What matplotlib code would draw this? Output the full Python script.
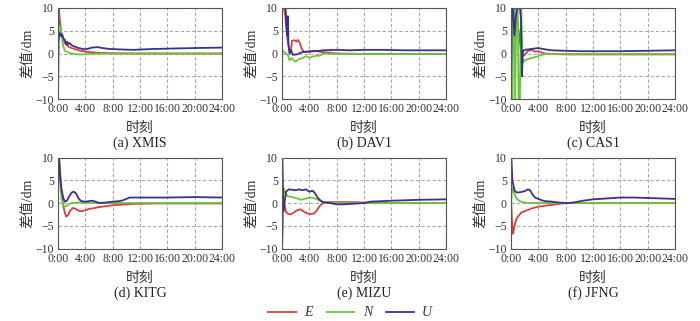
import matplotlib
matplotlib.use("Agg")
import matplotlib.pyplot as plt

plt.rcParams['font.family'] = ['Liberation Serif', 'Noto Sans CJK SC']
plt.rcParams['axes.unicode_minus'] = True

# ---------------- data (hours, dm) ----------------
titles = ["(a) XMIS", "(b) DAV1", "(c) CAS1", "(d) KITG", "(e) MIZU", "(f) JFNG"]
xtick_labels = ["0:00", "4:00", "8:00", "12:00", "16:00", "20:00", "24:00"]
ytick_vals = [-10, -5, 0, 5, 10]
legend_labels = ["E", "N", "U"]

# XMIS
a_E_t = [0, 0.05, 0.12, 0.4, 0.7, 1.0, 1.5, 2.0, 3.0, 4.0, 5.0, 6.0, 8.0, 12, 16, 20, 24]
a_E_v = [-10, 10.5, 10, 5, 3, 2.3, 1.5, 1.2, 0.7, 0.4, 0.25, 0.15, 0.05, 0, 0, 0, 0]
a_N_t = [0, 0.1, 0.25, 0.4, 0.7, 1.0, 1.5, 2.0, 3.0, 4.0, 5.0, 8.0, 12, 16, 20, 24]
a_N_v = [-10, 2, 5, 6, 2, 0.6, 0.2, 0, -0.2, -0.2, -0.05, 0, 0, 0, 0, 0]
a_U_t = [0, 0.05, 0.15, 0.3, 0.45, 0.6, 0.8, 1.0, 1.2, 1.35, 1.5, 1.7, 2.0, 2.5, 3.0, 4.0, 4.5, 5.0, 5.8, 6.5, 7.5, 9.0, 11, 14, 17, 20, 24]
a_U_v = [-10, 3, 3.8, 4.5, 3.8, 4.2, 3.3, 3.0, 2.0, 2.6, 2.0, 2.3, 1.8, 1.5, 1.2, 0.9, 1.1, 1.3, 1.4, 1.2, 1.0, 0.9, 0.8, 1.0, 1.1, 1.2, 1.3]

# DAV1
b_E_t = [0, 0.3, 0.5, 0.8, 1.1, 1.3, 1.45, 1.8, 2.1, 2.3, 2.6, 2.9, 3.2, 4.0, 4.5, 5.0, 5.5, 6.0, 8.0, 12, 16, 20, 24]
b_E_v = [10, 10, 8, 3, 0.5, 0.2, 2.8, 2.9, 2.6, 3.0, 2.3, 1.0, 0.4, 0.3, 0.5, 0.6, 0.4, 0.3, 0.0, -0.1, -0.1, -0.1, -0.1]
b_N_t = [0, 0.03, 0.1, 0.6, 0.9, 1.1, 1.4, 1.7, 2.0, 2.5, 3.0, 3.5, 4.0, 4.5, 5.0, 5.5, 6.0, 8.0, 12, 16, 20, 24]
b_N_v = [-10, 1.0, 0.5, 0, -0.5, -1.5, -1.0, -1.5, -1.8, -1.2, -1.0, -0.6, -0.9, -0.7, -0.5, -0.5, 0, -0.1, -0.1, -0.1, -0.1, -0.1]
b_U_t = [0, 0.5, 0.65, 0.75, 0.85, 0.95, 1.1, 1.3, 1.6, 2.2, 2.6, 3.0, 4.0, 5.0, 6.0, 8.0, 10, 12, 15, 18, 20, 24]
b_U_v = [10, 10.5, 6, 4, 8.2, 2, 0, 0.8, -0.3, -0.2, 0.1, 0.3, 0.5, 0.5, 0.7, 0.8, 0.7, 0.8, 0.8, 0.7, 0.7, 0.7]

# CAS1
c_E_t = [0, 0.15, 0.3, 0.5, 0.7, 0.9, 1.2, 1.5, 1.8, 2.0, 2.5, 3.0, 3.5, 4.0, 4.5, 5.0, 6.0, 8.0, 12, 16, 20, 24]
c_E_v = [-10, 5, 9, 6, 7, 7.5, 4, 0, -0.5, -0.3, 0.6, 0.8, 0.4, 0.5, 0.2, 0.0, -0.1, -0.2, -0.2, -0.2, -0.2, -0.2]
c_N_t = [0, 0.1, 0.2, 0.35, 0.5, 0.6, 0.8, 1.0, 1.1, 1.3, 1.5, 1.7, 2.0, 2.5, 3.0, 3.5, 4.0, 4.5, 5.0, 5.5, 6.0, 8.0, 12, 16, 20, 24]
c_N_v = [-10, 10, -10, 10, 10, -10, 10, 10, -10, -10, 10, -2, -1.5, -1.2, -1.0, -0.8, -0.6, -0.3, -0.1, 0, -0.1, -0.1, -0.1, -0.1, -0.1, -0.1]
c_U_t = [0, 0.1, 0.3, 0.5, 0.7, 0.9, 1.0, 1.3, 1.45, 1.6, 1.75, 2.0, 3.0, 4.0, 5.0, 6.0, 8.0, 10, 12, 16, 20, 24]
c_U_v = [-10, 10, 10, 4, 8, 10, 10, 10, 8, -5, 0.5, 0.8, 1.0, 1.2, 0.9, 0.7, 0.6, 0.5, 0.5, 0.5, 0.6, 0.7]

# KITG
d_E_t = [0, 0.15, 0.3, 0.5, 0.7, 1.0, 1.2, 1.5, 1.8, 2.2, 2.6, 3.0, 3.5, 4.0, 4.5, 5.0, 6.0, 7.0, 8.0, 9.0, 11, 14, 18, 24]
d_E_v = [10, 10, 7, 3, 0, -2.2, -3.0, -2.6, -1.6, -1.1, -1.3, -1.7, -1.8, -1.6, -1.3, -1.2, -0.9, -0.7, -0.5, -0.4, -0.2, -0.1, -0.1, -0.1]
d_N_t = [0, 0.15, 0.3, 0.5, 0.8, 1.0, 1.3, 1.7, 2.0, 3.0, 4.0, 5.0, 6.0, 8.0, 12, 16, 20, 24]
d_N_v = [10, 10, 5, 1, -0.5, -0.8, -0.6, -0.2, 0, 0.1, 0.1, 0.0, 0.0, 0.0, 0.0, 0.0, 0.0, 0.0]
d_U_t = [0, 0.02, 0.15, 0.3, 0.5, 0.8, 1.0, 1.3, 1.7, 2.0, 2.3, 2.7, 3.0, 3.4, 4.0, 4.5, 5.0, 5.5, 6.0, 7.0, 8.0, 9.0, 9.5, 10.5, 12, 16, 20, 24]
d_U_v = [-10, 10, 10, 6, 3, 1, 0.3, 0.5, 1.6, 2.3, 2.5, 2.0, 1.0, 0.4, 0.3, 0.4, 0.5, 0.3, 0.0, 0.1, 0.3, 0.4, 0.6, 1.2, 1.2, 1.2, 1.3, 1.2]

# MIZU
e_E_t = [0, 0.1, 0.25, 0.4, 0.6, 0.9, 1.3, 1.7, 2.2, 2.7, 3.2, 3.7, 4.2, 4.7, 5.0, 5.4, 5.8, 6.2, 7.0, 8.0, 10, 12, 16, 20, 24]
e_E_v = [-10, -5, 0, -0.5, -2.0, -2.4, -2.5, -2.1, -1.6, -1.4, -1.9, -2.3, -2.4, -2.3, -1.8, -0.9, -0.2, 0.1, 0.2, 0.2, 0.2, 0.1, 0.0, 0.0, 0.0]
e_N_t = [0, 0.1, 0.25, 0.4, 0.8, 1.5, 2.2, 2.8, 3.3, 3.8, 4.3, 4.8, 5.3, 5.8, 6.5, 8.0, 12, 16, 20, 24]
e_N_v = [-10, -3, 3.2, 2.5, 1.5, 1.3, 1.0, 0.7, 0.9, 1.1, 1.2, 1.0, 0.7, 0.3, 0.0, 0.0, 0.0, 0.0, 0.0, 0.0]
e_U_t = [0, 0.05, 0.2, 0.35, 0.6, 1.0, 1.5, 2.0, 2.5, 3.0, 3.5, 4.0, 4.5, 4.8, 5.2, 5.6, 6.0, 7.0, 8.0, 9.0, 10, 12, 13, 16, 20, 24]
e_U_v = [10, 10, -1.8, 0, 2.5, 3.0, 2.9, 2.8, 3.0, 2.8, 3.0, 2.5, 2.7, 2.2, 1.2, 0.6, 0.2, 0.0, -0.3, -0.3, -0.2, 0.0, 0.3, 0.5, 0.7, 0.8]

# JFNG
f_E_t = [0, 0.08, 0.2, 0.3, 0.5, 0.8, 1.0, 1.5, 2.0, 2.5, 3.0, 4.0, 5.0, 6.0, 7.0, 8.0, 10, 12, 16, 20, 24]
f_E_v = [0, -2, -5.5, -6.8, -5, -3.5, -3.0, -2.1, -1.8, -1.5, -1.2, -0.8, -0.6, -0.4, -0.2, 0.0, 0.0, 0.0, 0.0, 0.0, 0.0]
f_N_t = [0, 0.05, 0.2, 0.4, 0.8, 1.2, 1.6, 2.0, 2.5, 4.0, 8.0, 12, 16, 20, 24]
f_N_v = [-10, 1, 3.5, 2.5, 1.0, 0.5, 0.2, 0.1, 0.0, 0.0, 0.0, 0.0, 0.0, 0.0, 0.0]
f_U_t = [0, 0.05, 0.2, 0.4, 0.6, 1.0, 1.5, 2.0, 2.5, 2.8, 3.1, 3.5, 4.0, 4.5, 5.0, 6.0, 7.0, 8.0, 8.5, 9.5, 10.5, 12, 14, 16, 18, 20, 24]
f_U_v = [10, 10, 5, 3.5, 2.5, 2.3, 2.4, 2.6, 3.0, 2.8, 2.0, 1.2, 0.9, 0.6, 0.4, 0.3, 0.1, 0.0, 0.0, 0.2, 0.5, 0.8, 1.0, 1.2, 1.2, 1.1, 0.9]

panels = [
    (a_E_t, a_E_v, a_N_t, a_N_v, a_U_t, a_U_v),
    (b_E_t, b_E_v, b_N_t, b_N_v, b_U_t, b_U_v),
    (c_E_t, c_E_v, c_N_t, c_N_v, c_U_t, c_U_v),
    (d_E_t, d_E_v, d_N_t, d_N_v, d_U_t, d_U_v),
    (e_E_t, e_E_v, e_N_t, e_N_v, e_U_t, e_U_v),
    (f_E_t, f_E_v, f_N_t, f_N_v, f_U_t, f_U_v),
]

col_E = "#d8403f"
col_N = "#6cc33f"
col_U = "#3c2f8f"

W, H = 700, 321
fig = plt.figure(figsize=(W / 100, H / 100), dpi=100)

lefts = [58, 282, 511]
tops = [8, 157.5]
aw, ah = 164, 91

lines = None
for i, (Et, Ev, Nt, Nv, Ut, Uv) in enumerate(panels):
    r, c = divmod(i, 3)
    ax = fig.add_axes([lefts[c] / W, 1 - (tops[r] + ah) / H, aw / W, ah / H])
    lE, = ax.plot(Et, Ev, color=col_E, lw=1.3)
    lN, = ax.plot(Nt, Nv, color=col_N, lw=1.3)
    lU, = ax.plot(Ut, Uv, color=col_U, lw=1.3)
    lines = (lE, lN, lU)
    ax.set_xlim(0, 24)
    ax.set_ylim(-10, 10)
    ax.set_xticks(range(0, 25, 4))
    ax.set_xticklabels(xtick_labels)
    ax.set_yticks(ytick_vals)
    ax.set_yticklabels(["\u221210", "\u22125", "0", "5", "10"])
    ax.tick_params(length=0, labelsize=8.5, colors="#333333", pad=3)
    ax.grid(True, linestyle=(0, (3, 2)), color="#a8a8a8", lw=0.8)
    for s in ax.spines.values():
        s.set_color("#555555")
        s.set_linewidth(0.8)
    ax.set_ylabel("差值/dm", fontsize=10, color="#333333", labelpad=1)
    ax.set_xlabel("时刻", fontsize=10, color="#333333", labelpad=5)
    ax.set_title(titles[i], fontsize=10, y=-0.53, pad=0, color="#222222")

leg = fig.legend(lines, legend_labels, loc="center", bbox_to_anchor=(0.5, 0.025),
                 ncol=3, frameon=False, fontsize=10, handlelength=2.0, columnspacing=1.0,
                 handletextpad=0.6)
for t in leg.get_texts():
    t.set_color("#333333")
    t.set_fontstyle("italic")

fig.savefig("out.png", dpi=100)
